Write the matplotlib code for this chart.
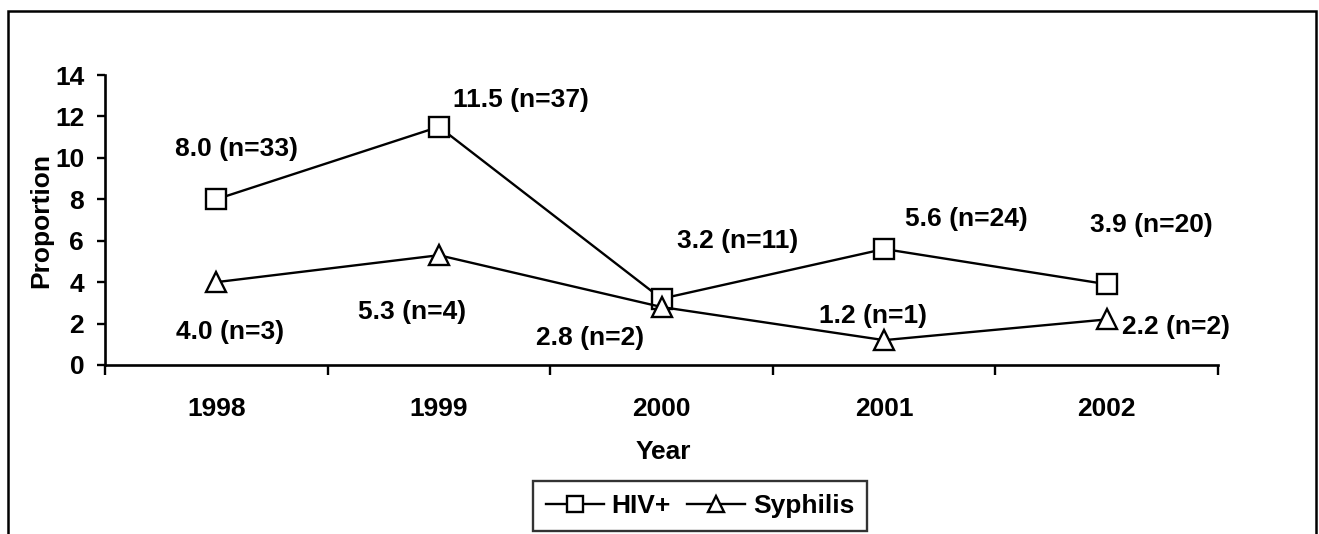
import matplotlib
matplotlib.use("Agg")
import matplotlib.pyplot as plt
from matplotlib.patches import Rectangle
from matplotlib.ticker import FixedLocator, NullFormatter

plt.rcParams['font.family'] = ['Liberation Sans', 'DejaVu Sans']
plt.rcParams['font.weight'] = 'bold'

years = ['1998', '1999', '2000', '2001', '2002']
hiv = [8.0, 11.5, 3.2, 5.6, 3.9]
hiv_n = [33, 37, 11, 24, 20]
syph = [4.0, 5.3, 2.8, 1.2, 2.2]
syph_n = [3, 4, 2, 1, 2]
yticks = [0, 2, 4, 6, 8, 10, 12, 14]

# label offsets (data units) relative to each point
hiv_off = [(0.09, 2.45), (0.37, 1.29), (0.34, 2.79), (0.37, 1.45), (0.20, 2.86)]
syph_off = [(0.06, -2.41), (-0.12, -2.74), (-0.32, -1.50), (-0.05, 1.17), (0.31, -0.37)]

W, H, DPI = 1319, 534, 100
fig = plt.figure(figsize=(W / DPI, H / DPI), dpi=DPI)
ax = fig.add_axes([105 / W, 1 - 365 / H, (1218 - 105) / W, (365 - 75) / H])

x = list(range(len(years)))
lw = 1.7
ax.plot(x, hiv, color='black', lw=lw, marker='s', ms=14, mfc='white', mec='black', mew=1.7, label='HIV+')
ax.plot(x, syph, color='black', lw=lw, marker='^', ms=15, mfc='white', mec='black', mew=1.7, label='Syphilis')

fs = 19
for i in x:
    dx, dy = hiv_off[i]
    ax.text(i + dx, hiv[i] + dy, f"{hiv[i]:.1f} (n={hiv_n[i]})", ha='center', va='center',
            fontsize=fs, fontweight='bold')
    dx, dy = syph_off[i]
    ax.text(i + dx, syph[i] + dy, f"{syph[i]:.1f} (n={syph_n[i]})", ha='center', va='center',
            fontsize=fs, fontweight='bold')

ax.set_xlim(-0.5, len(years) - 0.5)
ax.set_ylim(0, 14)
ax.set_yticks(yticks)
ax.set_yticklabels([str(t) for t in yticks])
ax.xaxis.set_major_locator(FixedLocator([i - 0.5 for i in range(len(years) + 1)]))
ax.xaxis.set_major_formatter(NullFormatter())
ax.xaxis.set_minor_locator(FixedLocator(x))
ax.set_xticklabels(years, minor=True)
ax.tick_params(axis='x', which='minor', length=0, pad=23, labelsize=fs)
ax.tick_params(axis='x', which='major', length=7, width=1.7, direction='out')
ax.tick_params(axis='y', length=6, width=1.7, direction='out', labelsize=fs, pad=9)
for lab in ax.get_xticklabels(minor=True) + ax.get_yticklabels():
    lab.set_fontweight('bold')

for s in ['top', 'right']:
    ax.spines[s].set_visible(False)
for s in ['left', 'bottom']:
    ax.spines[s].set_linewidth(1.9)

ax.set_xlabel('Year', fontsize=fs, fontweight='bold')
ax.set_ylabel('Proportion', fontsize=fs, fontweight='bold')
ax.yaxis.set_label_coords((41 - 105) / (1218 - 105), (365 - 220) / (365 - 75))
ax.xaxis.set_label_coords((663 - 105) / (1218 - 105), -(452 - 365) / (365 - 75))
ax.xaxis.label.set_va('center')
ax.yaxis.label.set_va('center')

leg = fig.legend(loc='center', bbox_to_anchor=(700 / W, 1 - 506 / H), ncol=2, frameon=True,
                 fancybox=False, edgecolor='black', fontsize=fs, handlelength=2.2,
                 handletextpad=0.3, columnspacing=0.6, borderpad=0.5, borderaxespad=0,
                 markerscale=0.78)
leg.get_frame().set_linewidth(1.7)
for t in leg.get_texts():
    t.set_fontweight('bold')

# outer chart border (bottom beyond image)
fig.patches.append(Rectangle((8 / W, -0.1), (1316 - 8) / W, 1.1 - 11 / H, transform=fig.transFigure,
                             fill=False, edgecolor='black', lw=1.8, clip_on=False))

fig.savefig('out.png', dpi=DPI)
